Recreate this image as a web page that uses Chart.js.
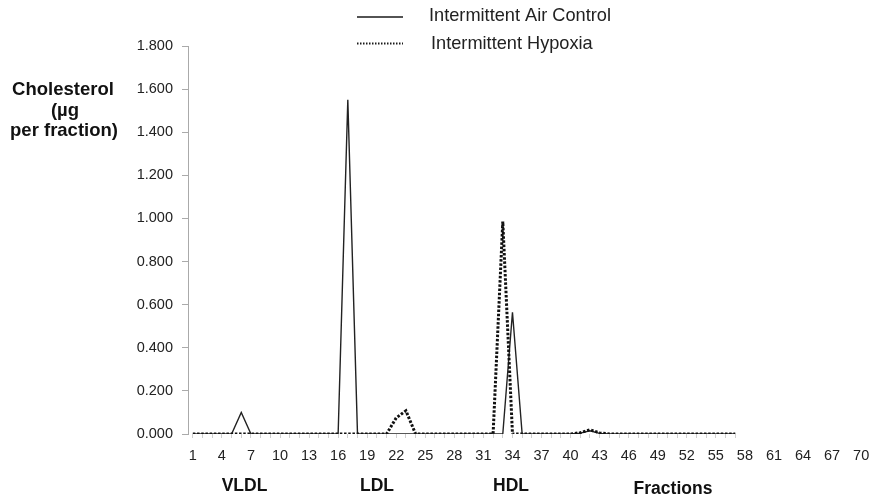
<!DOCTYPE html>
<html>
<head>
<meta charset="utf-8">
<script src="https://cdn.jsdelivr.net/npm/chart.js@4.4.0/dist/chart.umd.min.js"></script>
<style>
html,body{margin:0;padding:0;background:#fff;}
canvas{display:block;}
</style>
</head>
<body>
<canvas id="c" width="869" height="498"></canvas>
<script>
// Categories: fraction numbers 1..70
const fractions = [
  1,2,3,4,5,6,7,8,9,10,
  11,12,13,14,15,16,17,18,19,20,
  21,22,23,24,25,26,27,28,29,30,
  31,32,33,34,35,36,37,38,39,40,
  41,42,43,44,45,46,47,48,49,50,
  51,52,53,54,55,56,57,58,59,60,
  61,62,63,64,65,66,67,68,69,70
];
// Labelled fractions on the x axis
const shownFractionTicks = [1,4,7,10,13,16,19,22,25,28,31,34,37,40,43,46,49,52,55,58,61,64,67,70];
// Cholesterol (µg per fraction), fractions 1..57
const airControl = [
  0,0,0,0,0,0.10,0,0,0,0,
  0,0,0,0,0,0,1.55,0,0,0,
  0,0,0,0,0,0,0,0,0,0,
  0,0,0,0.565,0,0,0,0,0,0,
  0.004,0.015,0.003,0,0,0,0,0,0,0,
  0,0,0,0,0,0,0
];
const hypoxia = [
  0,0,0,0,0,0,0,0,0,0,
  0,0,0,0,0,0,0,0,0,0,
  0,0.075,0.108,0,0,0,0,0,0,0,
  0,0,0.985,0,0,0,0,0,0,0,
  0.006,0.02,0.005,0,0,0,0,0,0,0,
  0,0,0,0,0,0,0
];
const seriesNames = ['Intermittent Air Control', 'Intermittent Hypoxia'];
const yTickValues = [0,0.2,0.4,0.6,0.8,1.0,1.2,1.4,1.6,1.8];
const regionLabels = ['VLDL','LDL','HDL'];
const yTitleLines = ['Cholesterol','(\u00b5g','per fraction)'];
const xTitle = 'Fractions';

const FONT = "'Liberation Sans', Arial, Helvetica, sans-serif";
Chart.defaults.font.family = FONT;

const textPlugin = {
  id: 'textPlugin',
  afterDraw(chart) {
    const ctx = chart.ctx;
    ctx.save();
    // Legend
    ctx.strokeStyle = '#1a1a1a';
    ctx.lineWidth = 1.5;
    ctx.setLineDash([]);
    ctx.beginPath(); ctx.moveTo(357, 17); ctx.lineTo(403, 17); ctx.stroke();
    ctx.lineWidth = 2;
    ctx.setLineDash([1.5, 1.5]);
    ctx.beginPath(); ctx.moveTo(357, 43.5); ctx.lineTo(403, 43.5); ctx.stroke();
    ctx.setLineDash([]);
    ctx.fillStyle = '#222';
    ctx.font = '18.2px ' + FONT;
    ctx.textAlign = 'left';
    ctx.textBaseline = 'alphabetic';
    ctx.fillText(seriesNames[0], 429, 21);
    ctx.fillText(seriesNames[1], 431, 49);
    // Y title
    ctx.fillStyle = '#111';
    ctx.font = 'bold 18.5px ' + FONT;
    ctx.textAlign = 'center';
    ctx.fillText(yTitleLines[0], 63, 95);
    ctx.fillText(yTitleLines[1], 65, 116);
    ctx.fillText(yTitleLines[2], 64, 136);
    // Region labels and x title
    ctx.font = 'bold 17.5px ' + FONT;
    ctx.fillText(regionLabels[0], 244.5, 491);
    ctx.fillText(regionLabels[1], 377, 491);
    ctx.fillText(regionLabels[2], 511, 491);
    ctx.fillText(xTitle, 673, 494);
    ctx.restore();
  }
};

new Chart(document.getElementById('c'), {
  type: 'line',
  data: {
    labels: fractions,
    datasets: [
      {
        label: seriesNames[1],
        data: hypoxia,
        borderColor: '#111',
        borderWidth: 3,
        borderDash: [2.5, 1.7],
        pointRadius: 0,
        tension: 0,
        fill: false,
        order: 1
      },
      {
        label: seriesNames[0],
        data: airControl,
        borderColor: '#222',
        borderWidth: 1.4,
        pointRadius: 0,
        tension: 0,
        fill: false,
        order: 2
      }
    ]
  },
  plugins: [textPlugin],
  options: {
    responsive: false,
    animation: false,
    devicePixelRatio: 1,
    layout: { padding: { left: 0, right: 3, top: 46, bottom: 0 } },
    plugins: { legend: { display: false }, tooltip: { enabled: false } },
    scales: {
      x: {
        type: 'category',
        offset: true,
        border: { display: false },
        grid: {
          drawOnChartArea: false,
          tickLength: 4,
          offset: false,
          color: function(c) { return c.index < airControl.length ? '#cfcfcf' : 'rgba(0,0,0,0)'; }
        },
        ticks: {
          autoSkip: false,
          maxRotation: 0,
          minRotation: 0,
          padding: 9,
          color: '#222',
          font: { size: 14.5 },
          callback: function(value, index) {
            const f = fractions[index];
            return shownFractionTicks.includes(f) ? String(f) : '';
          }
        },
        afterFit: function(s) { s.height = 64; s.paddingLeft = 0; s.paddingRight = 0; }
      },
      y: {
        min: 0,
        max: 1.8,
        border: { display: true, color: '#aaa', width: 1 },
        grid: { drawOnChartArea: false, tickLength: 6, color: '#aaa' },
        afterBuildTicks: function(s) { s.ticks = yTickValues.map(v => ({ value: v })); },
        ticks: {
          padding: 9,
          color: '#222',
          font: { size: 14.5 },
          callback: function(v) { return Number(v).toFixed(3); }
        },
        afterFit: function(s) { s.width = 188; s.paddingTop = 0; s.paddingBottom = 0; }
      }
    }
  }
});
</script>
</body>
</html>
